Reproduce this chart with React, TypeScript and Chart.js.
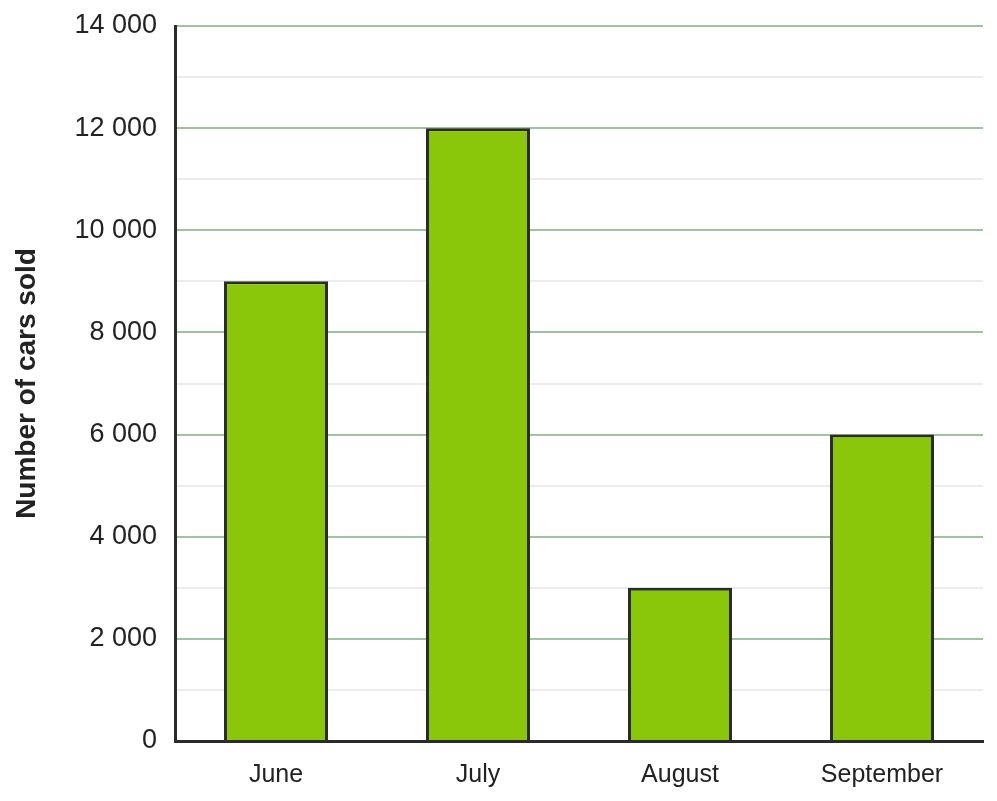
import React, { useEffect, useRef } from "react";
import { Chart, registerables } from "chart.js";

Chart.register(...registerables);

const categories = ["June", "July", "August", "September"];
const carsSold = [9000, 12000, 3000, 6000];
const yMin = 0;
const yMax = 14000;
const yStep = 1000;
const yLabelStep = 2000;
const yTitle = "Number of cars sold";

const FONT = "'Liberation Sans', Arial, Helvetica, sans-serif";

function fmt(v: number): string {
  return String(v).replace(/\B(?=(\d{3})+(?!\d))/g, " ");
}

export default function App() {
  const ref = useRef<HTMLCanvasElement | null>(null);

  useEffect(() => {
    if (!ref.current) return;
    const chart = new Chart(ref.current, {
      type: "bar",
      data: {
        labels: categories,
        datasets: [
          {
            data: carsSold,
            backgroundColor: "#8ac60a",
            borderColor: "#2b2b2b",
            borderWidth: 3,
            barPercentage: 0.515,
            categoryPercentage: 1,
          },
        ],
      },
      options: {
        animation: false,
        responsive: true,
        maintainAspectRatio: false,
        layout: { padding: { top: 26, right: 14, left: 0, bottom: 0 } },
        plugins: {
          legend: { display: false },
          tooltip: { enabled: false },
        },
        scales: {
          x: {
            grid: { display: false, drawTicks: false },
            border: { display: true, color: "#2b2b2b", width: 3 },
            ticks: {
              color: "#222",
              font: { family: FONT, size: 25 },
              padding: 19,
            },
            afterFit: (s: any) => {
              s.height = 60;
              s.paddingLeft = 0;
              s.paddingRight = 0;
            },
          },
          y: {
            min: yMin,
            max: yMax,
            grid: {
              drawTicks: false,
              lineWidth: 2,
              color: (c: any) =>
                c.tick && c.tick.value % yLabelStep === 0 ? "#9fc39f" : "#e8efe8",
            },
            border: { display: true, color: "#2b2b2b", width: 3 },
            ticks: {
              stepSize: yStep,
              color: "#222",
              font: { family: FONT, size: 27 },
              padding: 18,
              callback: (v: any) => (Number(v) % yLabelStep === 0 ? fmt(Number(v)) : ""),
            },
            title: {
              display: true,
              text: yTitle,
              color: "#222",
              font: { family: FONT, size: 28, weight: "bold" },
              padding: { top: 10, bottom: 4 },
            },
            afterFit: (s: any) => {
              s.width = 175;
              s.paddingTop = 0;
              s.paddingBottom = 0;
            },
          },
        },
      },
    });
    return () => chart.destroy();
  }, []);

  return (
    <div style={{ position: "fixed", left: 0, top: 0, width: 997, height: 801, background: "#fff" }}>
      <canvas ref={ref} />
    </div>
  );
}
